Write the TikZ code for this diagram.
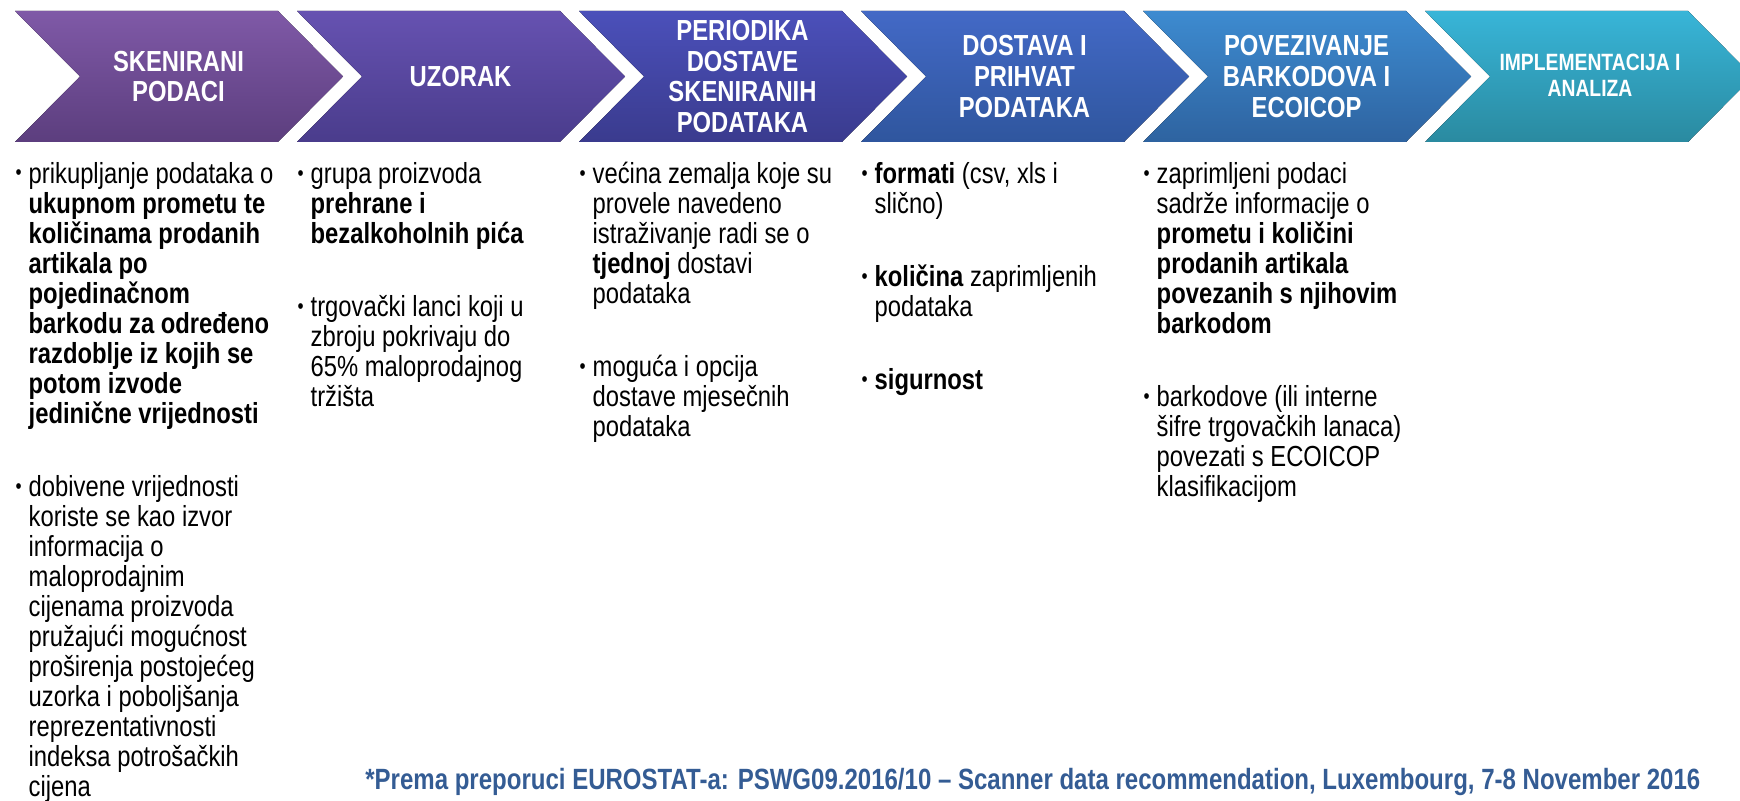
\documentclass[tikz,border=0pt]{standalone}
\usepackage{fontspec}
\setmainfont{Liberation Sans}[FakeStretch=0.82]

\definecolor{chevAt}{HTML}{7F59A7}
\definecolor{chevAb}{HTML}{5C3E7E}
\definecolor{chevBt}{HTML}{6652B1}
\definecolor{chevBb}{HTML}{4A3C8C}
\definecolor{chevCt}{HTML}{4B50BA}
\definecolor{chevCb}{HTML}{3A3B8E}
\definecolor{chevDt}{HTML}{4369C6}
\definecolor{chevDb}{HTML}{2F569E}
\definecolor{chevEt}{HTML}{3D8BD0}
\definecolor{chevEb}{HTML}{2E63A0}
\definecolor{chevFt}{HTML}{38B5D8}
\definecolor{chevFb}{HTML}{2A8AA0}
\definecolor{notecol}{HTML}{345C94}

\newcommand{\bul}{\llap{\raisebox{1pt}{\fontsize{6pt}{6pt}\selectfont\textbullet}\hspace{0.07cm}}}

\begin{document}
\begin{tikzpicture}[x=0.01cm, y=0.01cm,
    head/.style={align=center, text=white, inner sep=0, font=\bfseries\fontsize{8.25pt}{8.8pt}\selectfont},
    txt/.style={align=left, anchor=base west, inner sep=0, font=\fontsize{8.25pt}{8.54pt}\selectfont}]
    \useasboundingbox (0,0) rectangle (1740,-801);
    \clip (0,0) rectangle (1740,-801);

    % the six chevrons of the process
    \foreach \l/\ctop/\cbot in {15/chevAt/chevAb, 297/chevBt/chevBb, 579/chevCt/chevCb,
                                861/chevDt/chevDb, 1143/chevEt/chevEb, 1425/chevFt/chevFb} {
      \fill[top color=\ctop, bottom color=\cbot] (\l,-11) -- ++(263,0) -- ++(65,-65.5)
        -- ++(-65,-65.5) -- ++(-263,0) -- ++(65,65.5) -- cycle;
    }

    \node[head] (skenirani) at (178.5,-76.5) {SKENIRANI\\PODACI};
    \node[head] (uzorak) at (460.5,-76.5) {UZORAK};
    \node[head] (periodika) at (742.5,-76.5) {PERIODIKA\\DOSTAVE\\SKENIRANIH\\PODATAKA};
    \node[head] (dostava) at (1024.5,-76.5) {DOSTAVA I\\PRIHVAT\\PODATAKA};
    \node[head] (povezivanje) at (1306.5,-76.5) {POVEZIVANJE\\BARKODOVA I\\ECOICOP};
    \node[head, font=\bfseries\fontsize{6.7pt}{7.3pt}\selectfont] (implementacija)
      at (1590,-75) {IMPLEMENTACIJA I\\ANALIZA};

    % bullet text under each chevron (placed by the baseline of the last line)
    \node[txt] (skeniraniTxt) at (28,-797) {\bul prikupljanje podataka o\\
      \textbf{ukupnom prometu te}\\ \textbf{količinama prodanih}\\ \textbf{artikala po}\\
      \textbf{pojedinačnom}\\ \textbf{barkodu za određeno}\\ \textbf{razdoblje iz kojih se}\\
      \textbf{potom izvode}\\ \textbf{jedinične vrijednosti}\\[0.43cm]
      \bul dobivene vrijednosti\\ koriste se kao izvor\\ informacija o\\ maloprodajnim\\
      cijenama proizvoda\\ pružajući mogućnost\\ proširenja postojećeg\\
      uzorka i poboljšanja\\ reprezentativnosti\\ indeksa potrošačkih\\ cijena};
    \node[txt] (uzorakTxt) at (310,-407) {\bul grupa proizvoda\\ \textbf{prehrane i}\\
      \textbf{bezalkoholnih pića}\\[0.43cm]
      \bul trgovački lanci koji u\\ zbroju pokrivaju do\\ 65\% maloprodajnog\\ tržišta};
    \node[txt] (periodikaTxt) at (592,-437) {\bul većina zemalja koje su\\ provele navedeno\\
      istraživanje radi se o\\ \textbf{tjednoj} dostavi\\ podataka\\[0.43cm]
      \bul moguća i opcija\\ dostave mjesečnih\\ podataka};
    \node[txt] (dostavaTxt) at (874,-390) {\bul \textbf{formati} (csv, xls i\\ slično)\\[0.43cm]
      \bul \textbf{količina} zaprimljenih\\ podataka\\[0.43cm]
      \bul \textbf{sigurnost}};
    \node[txt] (povezivanjeTxt) at (1156,-497) {\bul zaprimljeni podaci\\ sadrže informacije o\\
      \textbf{prometu i količini}\\ \textbf{prodanih artikala}\\ \textbf{povezanih s njihovim}\\
      \textbf{barkodom}\\[0.43cm]
      \bul barkodove (ili interne\\ šifre trgovačkih lanaca)\\ povezati s ECOICOP\\ klasifikacijom};

    % source note
    \node[anchor=base east, inner sep=0, text=notecol, font=\bfseries\fontsize{8.33pt}{8.6pt}\selectfont]
      (napomena) at (1701,-789) {*Prema preporuci EUROSTAT-a: PSWG09.2016/10 – Scanner data recommendation, Luxembourg, 7-8 November 2016};
\end{tikzpicture}
\end{document}
